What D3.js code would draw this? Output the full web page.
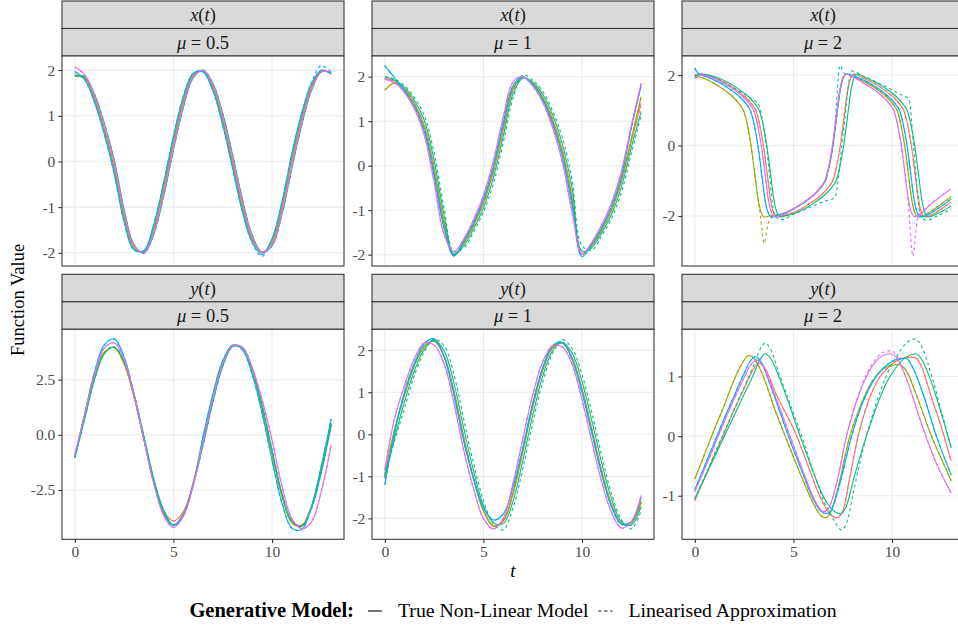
<!DOCTYPE html>
<html>
<head>
<meta charset="utf-8">
<script src="https://cdn.jsdelivr.net/npm/d3@7"></script>
<style>
  body { margin: 0; background: #ffffff; }
  svg { display: block; }
  text { font-family: "Liberation Serif", "DejaVu Serif", serif; }
</style>
</head>
<body>
<svg id="chart" width="958" height="628"></svg>
<script>
// ---------------------------------------------------------------------------
// Van der Pol trajectories: five runs per setting, each drawn from the true
// non-linear model (solid) and from the linearised approximation (dashed).
// ---------------------------------------------------------------------------

const runColours = ["#F8766D", "#A3A500", "#00BF7D", "#00B0F6", "#E76BF3"];

// common time grid for the smoother settings
const tGrid = [0, 0.5, 1, 1.5, 2, 2.5, 3, 3.5, 4, 4.5, 5, 5.5, 6, 6.5, 7, 7.5, 8, 8.5, 9, 9.5, 10, 10.5, 11, 11.5, 12, 12.5, 13];

// x(t), mu = 0.5  (values on tGrid, one row per run)
const xMu05True = [
  [1.90, 1.83, 1.38, 0.71, -0.12, -1.19, -1.88, -1.97, -1.49, -0.62, 0.40, 1.30, 1.88, 1.98, 1.63, 0.92, 0.00, -0.97, -1.70, -1.98, -1.77, -1.03, 0.00, 0.92, 1.63, 1.97, 1.94],
  [1.87, 1.82, 1.35, 0.66, -0.18, -1.24, -1.90, -1.97, -1.45, -0.56, 0.46, 1.34, 1.90, 1.97, 1.60, 0.87, -0.06, -1.02, -1.73, -2.00, -1.74, -0.98, 0.06, 0.97, 1.66, 1.99, 1.92],
  [1.87, 1.86, 1.47, 0.83, 0.03, -1.05, -1.82, -2.01, -1.60, -0.77, 0.25, 1.18, 1.83, 2.00, 1.71, 1.05, 0.15, -0.83, -1.62, -1.99, -1.85, -1.17, -0.16, 0.79, 1.55, 1.96, 1.95],
  [1.97, 1.79, 1.29, 0.59, -0.27, -1.33, -1.94, -1.95, -1.38, -0.47, 0.55, 1.42, 1.93, 1.96, 1.55, 0.79, -0.15, -1.11, -1.78, -2.04, -1.69, -0.89, 0.16, 1.05, 1.71, 2.00, 1.91],
  [2.07, 1.90, 1.44, 0.79, -0.02, -1.10, -1.84, -2.00, -1.56, -0.71, 0.30, 1.23, 1.85, 1.99, 1.68, 1.00, 0.09, -0.88, -1.65, -2.00, -1.82, -1.12, -0.10, 0.84, 1.58, 1.96, 1.96]
];
const xMu05Lin = [
  xMu05True[0],
  xMu05True[1],
  xMu05True[2],
  [1.97, 1.79, 1.29, 0.59, -0.27, -1.33, -1.94, -1.96, -1.38, -0.47, 0.55, 1.42, 1.93, 1.97, 1.55, 0.79, -0.15, -1.11, -1.79, -2.08, -1.69, -0.89, 0.16, 1.05, 1.73, 2.10, 1.95],
  xMu05True[4]
];

// x(t), mu = 1
const xMu1True = [
  [1.95, 1.90, 1.72, 1.40, 0.90, -0.05, -1.25, -2.02, -1.75, -1.35, -0.85, -0.15, 0.80, 1.70, 1.98, 1.85, 1.55, 1.05, 0.35, -0.70, -1.98, -1.80, -1.45, -1.00, -0.35, 0.55, 1.40],
  [1.70, 1.86, 1.70, 1.38, 0.86, -0.11, -1.31, -2.00, -1.73, -1.32, -0.81, -0.10, 0.86, 1.74, 1.98, 1.84, 1.53, 1.01, 0.30, -0.77, -1.98, -1.78, -1.43, -0.97, -0.30, 0.60, 1.55],
  [2.00, 1.92, 1.76, 1.47, 1.02, 0.12, -1.10, -1.98, -1.80, -1.42, -0.95, -0.28, 0.65, 1.61, 1.97, 1.88, 1.61, 1.15, 0.49, -0.51, -1.92, -1.84, -1.51, -1.09, -0.47, 0.41, 1.22],
  [2.25, 1.97, 1.68, 1.33, 0.78, -0.22, -1.40, -2.03, -1.70, -1.28, -0.75, -0.02, 0.95, 1.79, 1.99, 1.82, 1.49, 0.95, 0.21, -0.89, -2.04, -1.76, -1.39, -0.91, -0.23, 0.85, 1.80],
  [1.95, 1.86, 1.64, 1.28, 0.68, -0.37, -1.54, -1.93, -1.65, -1.21, -0.67, 0.10, 1.08, 1.88, 2.00, 1.79, 1.43, 0.87, 0.09, -1.05, -1.98, -1.72, -1.33, -0.83, -0.12, 0.90, 1.85]
];
const xMu1Lin = [
  xMu1True[0],
  xMu1True[1],
  [2.00, 1.94, 1.80, 1.53, 1.13, 0.29, -0.94, -1.93, -1.85, -1.49, -1.04, -0.41, 0.50, 1.51, 2.04, 1.92, 1.68, 1.24, 0.63, -0.33, -1.80, -1.90, -1.58, -1.18, -0.60, 0.27, 1.13],
  xMu1True[3],
  xMu1True[4]
];

// x(t), mu = 2  ([t, value] pairs, denser around the fast jumps)
const xMu2RedTrue = [[0, 2.00], [0.3, 2.03], [0.98, 1.93], [1.48, 1.80], [1.98, 1.63], [2.48, 1.42], [2.88, 1.18], [3.13, 0.95], [3.28, 0.62], [3.48, 0], [3.68, -0.85], [3.83, -1.5], [3.98, -1.88], [4.18, -2.03], [4.38, -2.0], [4.88, -1.93], [5.38, -1.80], [5.88, -1.63], [6.38, -1.42], [6.78, -1.18], [7.03, -0.95], [7.18, -0.62], [7.38, 0], [7.58, 0.85], [7.73, 1.5], [7.88, 1.88], [8.08, 2.03], [8.48, 1.93], [8.98, 1.80], [9.48, 1.63], [9.98, 1.42], [10.38, 1.18], [10.63, 0.95], [10.78, 0.62], [10.98, 0], [11.18, -0.85], [11.33, -1.5], [11.48, -1.88], [11.68, -2.03], [11.88, -2.0], [12.4, -1.84], [13, -1.6]];
const xMu2OliveTrue = [[0, 1.97], [0.35, 1.93], [0.85, 1.80], [1.35, 1.63], [1.85, 1.42], [2.25, 1.18], [2.5, 0.95], [2.65, 0.62], [2.85, 0], [3.05, -0.85], [3.2, -1.5], [3.35, -1.88], [3.55, -2.03], [3.75, -2.0], [4.5, -1.93], [5.0, -1.80], [5.5, -1.63], [6.0, -1.42], [6.4, -1.18], [6.65, -0.95], [6.8, -0.62], [7.0, 0], [7.2, 0.85], [7.35, 1.5], [7.5, 1.88], [7.7, 2.03], [8.14, 1.93], [8.64, 1.80], [9.14, 1.63], [9.64, 1.42], [10.04, 1.18], [10.29, 0.95], [10.44, 0.62], [10.64, 0], [10.84, -0.85], [10.99, -1.5], [11.14, -1.88], [11.34, -2.03], [11.54, -2.0], [12.2, -1.78], [13, -1.45]];
const xMu2OliveLin = [[0, 1.97], [0.35, 1.93], [0.85, 1.80], [1.35, 1.63], [1.85, 1.42], [2.25, 1.18], [2.5, 0.95], [2.65, 0.62], [2.85, 0], [3.05, -0.85], [3.2, -1.5], [3.33, -2.0], [3.52, -2.78], [3.7, -2.25], [3.85, -2.05], [4.1, -2.0], [4.5, -1.93], [5.0, -1.80], [5.5, -1.63], [6.0, -1.42], [6.4, -1.18], [6.65, -0.95], [6.8, -0.62], [7.0, 0], [7.2, 0.85], [7.35, 1.5], [7.5, 1.88], [7.7, 2.03], [8.14, 1.93], [8.64, 1.80], [9.14, 1.63], [9.64, 1.42], [10.04, 1.18], [10.29, 0.95], [10.44, 0.62], [10.64, 0], [10.84, -0.85], [10.99, -1.5], [11.14, -1.88], [11.34, -2.03], [11.54, -2.0], [12.2, -1.78], [13, -1.45]];
const xMu2GreenTrue = [[0, 1.97], [0.3, 2.02], [1.15, 1.93], [1.65, 1.80], [2.15, 1.63], [2.65, 1.42], [3.05, 1.18], [3.3, 0.95], [3.45, 0.62], [3.65, 0], [3.85, -0.85], [4.0, -1.5], [4.15, -1.88], [4.35, -2.03], [4.55, -2.0], [5.05, -1.93], [5.55, -1.80], [6.05, -1.63], [6.55, -1.42], [6.95, -1.18], [7.2, -0.95], [7.35, -0.62], [7.55, 0], [7.75, 0.85], [7.9, 1.5], [8.05, 1.88], [8.25, 2.03], [8.65, 1.93], [9.15, 1.80], [9.65, 1.63], [10.15, 1.42], [10.55, 1.18], [10.8, 0.95], [10.95, 0.62], [11.15, 0], [11.35, -0.85], [11.5, -1.5], [11.65, -1.88], [11.85, -2.03], [12.05, -2.0], [12.5, -1.88], [13, -1.72]];
const xMu2GreenLin = [[0, 1.97], [0.3, 2.02], [1.0, 1.9], [1.5, 1.78], [2.0, 1.63], [2.47, 1.48], [2.9, 1.32], [3.23, 1.17], [3.62, 0], [4.07, -2.0], [4.4, -2.1], [5.0, -1.95], [5.5, -1.83], [6.0, -1.72], [6.5, -1.6], [7.1, -1.47], [7.52, 0.32], [7.95, 2.12], [8.5, 1.98], [9.0, 1.85], [9.5, 1.72], [10.0, 1.58], [10.5, 1.43], [10.86, 1.31], [11.09, 0], [11.45, -2.0], [11.73, -2.12], [12.3, -2.0], [13, -1.8]];
const xMu2BlueTrue = [[0, 2.2], [0.15, 2.06], [0.7, 1.93], [1.2, 1.80], [1.7, 1.63], [2.2, 1.42], [2.6, 1.18], [2.85, 0.95], [3.0, 0.62], [3.2, 0], [3.4, -0.85], [3.55, -1.5], [3.7, -1.88], [3.9, -2.03], [4.1, -2.0], [4.5, -1.93], [5.0, -1.80], [5.5, -1.63], [6.0, -1.42], [6.4, -1.18], [6.65, -0.95], [6.8, -0.62], [7.0, 0], [7.2, 0.85], [7.35, 1.5], [7.5, 1.88], [7.7, 2.03], [8.26, 1.93], [8.76, 1.80], [9.26, 1.63], [9.76, 1.42], [10.16, 1.18], [10.41, 0.95], [10.56, 0.62], [10.76, 0], [10.96, -0.85], [11.11, -1.5], [11.26, -1.88], [11.46, -2.03], [11.66, -2.0], [12.3, -1.8], [13, -1.52]];
const xMu2BlueLin = [[0, 2.2], [0.15, 2.06], [0.7, 1.93], [1.2, 1.80], [1.7, 1.63], [2.2, 1.42], [2.6, 1.18], [2.85, 0.95], [3.0, 0.62], [3.2, 0], [3.4, -0.85], [3.55, -1.5], [3.7, -1.88], [3.9, -2.03], [4.1, -2.0], [4.5, -1.93], [5.0, -1.80], [5.5, -1.63], [6.0, -1.42], [6.4, -1.18], [6.65, -0.95], [6.8, -0.62], [7.0, 0], [7.15, 0.95], [7.36, 2.27], [7.55, 2.06], [7.8, 2.0], [8.26, 1.93], [8.76, 1.80], [9.26, 1.63], [9.76, 1.42], [10.16, 1.18], [10.41, 0.95], [10.56, 0.62], [10.76, 0], [10.96, -0.85], [11.11, -1.5], [11.26, -1.88], [11.46, -2.03], [11.66, -2.0], [12.3, -1.8], [13, -1.52]];
const xMu2MagentaTrue = [[0, 1.9], [0.3, 2.0], [0.87, 1.93], [1.37, 1.80], [1.87, 1.63], [2.37, 1.42], [2.77, 1.18], [3.02, 0.95], [3.17, 0.62], [3.37, 0], [3.57, -0.85], [3.72, -1.5], [3.87, -1.88], [4.07, -2.03], [4.27, -2.0], [4.6, -1.93], [5.0, -1.80], [5.48, -1.63], [5.98, -1.42], [6.38, -1.18], [6.63, -0.95], [6.78, -0.62], [6.98, 0], [7.18, 0.85], [7.33, 1.5], [7.48, 1.88], [7.68, 2.03], [8.0, 1.95], [8.47, 1.80], [8.97, 1.63], [9.47, 1.42], [9.87, 1.18], [10.12, 0.95], [10.27, 0.62], [10.47, 0], [10.67, -0.85], [10.82, -1.5], [10.97, -1.88], [11.17, -2.02], [11.3, -2.0], [12.0, -1.65], [13, -1.23]];
const xMu2MagentaLin = [[0, 1.9], [0.3, 2.0], [0.87, 1.93], [1.37, 1.80], [1.87, 1.63], [2.37, 1.42], [2.77, 1.18], [3.02, 0.95], [3.17, 0.62], [3.37, 0], [3.57, -0.85], [3.72, -1.5], [3.87, -1.88], [4.07, -2.03], [4.27, -2.0], [4.6, -1.93], [5.0, -1.80], [5.48, -1.63], [5.98, -1.42], [6.38, -1.18], [6.63, -0.95], [6.78, -0.62], [6.98, 0], [7.18, 0.85], [7.33, 1.5], [7.48, 1.88], [7.68, 2.03], [8.0, 1.95], [8.47, 1.80], [8.97, 1.63], [9.47, 1.42], [9.87, 1.18], [10.12, 0.95], [10.27, 0.62], [10.47, 0], [10.67, -0.85], [10.82, -1.6], [10.95, -2.6], [11.06, -3.15], [11.18, -2.6], [11.31, -2.05], [12.0, -1.65], [13, -1.23]];

// y(t), mu = 0.5
const yMu05True = [
  [-1.00, 0.86, 2.62, 3.74, 3.96, 3.23, 1.73, -0.20, -2.07, -3.43, -3.90, -3.49, -2.17, -0.32, 1.63, 3.21, 4.03, 3.92, 2.89, 1.19, -0.84, -2.73, -3.91, -4.09, -3.23, -1.54, 0.53],
  [-1.00, 0.88, 2.64, 3.74, 3.96, 3.22, 1.72, -0.20, -2.12, -3.52, -4.08, -3.60, -2.23, -0.32, 1.63, 3.20, 4.02, 3.91, 2.88, 1.18, -0.86, -2.77, -3.98, -4.15, -3.28, -1.56, 0.52],
  [-1.05, 0.72, 2.50, 3.68, 3.98, 3.32, 1.87, -0.04, -1.98, -3.40, -4.10, -3.64, -2.30, -0.48, 1.48, 3.11, 4.00, 3.97, 3.00, 1.35, -0.68, -2.63, -3.90, -4.14, -3.33, -1.70, 0.45],
  [-0.95, 0.94, 2.86, 4.08, 4.35, 3.52, 1.85, -0.20, -2.15, -3.57, -4.11, -3.63, -2.26, -0.08, 1.85, 3.36, 4.07, 3.85, 2.72, 0.96, -1.14, -3.08, -4.22, -4.30, -3.26, -1.40, 0.72],
  [-0.90, 0.92, 2.75, 3.93, 4.18, 3.40, 1.82, -0.21, -2.20, -3.64, -4.20, -3.70, -2.30, -0.34, 1.64, 3.22, 4.05, 3.96, 3.03, 1.58, -0.24, -2.30, -3.78, -4.25, -3.94, -2.55, -0.45]
];
const yMu05Lin = yMu05True;

// y(t), mu = 1
const yMu1True = [
  [-1.05, 0.09, 0.93, 1.63, 2.08, 2.22, 1.87, 1.04, -0.06, -1.04, -1.80, -2.18, -2.07, -1.42, -0.41, 0.64, 1.51, 2.05, 2.17, 1.82, 1.08, 0.12, -0.87, -1.67, -2.12, -2.11, -1.62],
  [-0.95, 0.13, 0.96, 1.65, 2.09, 2.22, 1.85, 1.00, -0.10, -1.07, -1.82, -2.18, -2.05, -1.39, -0.37, 0.68, 1.54, 2.06, 2.17, 1.80, 1.05, 0.08, -0.91, -1.69, -2.13, -2.10, -1.60],
  [-1.00, -0.08, 0.78, 1.51, 2.02, 2.24, 1.99, 1.23, 0.15, -0.87, -1.69, -2.10, -2.13, -1.59, -0.62, 0.45, 1.37, 1.98, 2.19, 1.93, 1.25, 0.32, -0.69, -1.54, -2.08, -2.16, -1.72],
  [-1.20, 0.05, 1.01, 1.69, 2.15, 2.27, 1.85, 0.94, -0.16, -1.05, -1.74, -2.04, -1.90, -1.26, -0.31, 0.74, 1.58, 2.10, 2.19, 1.77, 1.00, 0.02, -0.96, -1.73, -2.14, -2.08, -1.50],
  [-0.85, 0.39, 1.16, 1.80, 2.17, 2.12, 1.69, 0.75, -0.37, -1.30, -2.00, -2.25, -2.00, -1.17, -0.10, 0.93, 1.72, 2.10, 2.08, 1.66, 0.82, -0.17, -1.14, -1.86, -2.23, -2.08, -1.45]
];
const yMu1Lin = [
  yMu1True[0],
  yMu1True[1],
  [-1.00, -0.15, 0.62, 1.40, 1.96, 2.26, 2.11, 1.43, 0.36, -0.69, -1.57, -2.13, -2.27, -1.75, -0.82, 0.26, 1.23, 1.92, 2.25, 2.04, 1.42, 0.51, -0.51, -1.42, -2.03, -2.25, -1.82],
  yMu1True[3],
  yMu1True[4]
];

// y(t), mu = 2  ([t, value] pairs)
const yMu2RedTrue = [[0, -1.08], [0.5, -0.7], [1.0, -0.32], [1.5, 0.06], [2.0, 0.44], [2.5, 0.8], [2.9, 1.08], [3.23, 1.22], [3.55, 1.14], [4.1, 0.72], [5.17, 0], [5.8, -0.55], [6.3, -0.98], [6.8, -1.28], [7.19, -1.37], [7.5, -1.27], [7.8, -0.8], [8.28, 0], [8.8, 0.58], [9.3, 0.95], [9.8, 1.15], [10.3, 1.27], [10.8, 1.32], [11.14, 1.32], [11.45, 1.2], [12.0, 0.65], [12.5, 0.15], [13, -0.42]];
const yMu2OliveTrue = [[0, -0.72], [0.5, -0.3], [1.0, 0.12], [1.5, 0.52], [2.0, 0.95], [2.4, 1.22], [2.73, 1.35], [3.05, 1.28], [3.5, 0.98], [4.0, 0.5], [4.58, 0], [5.0, -0.35], [5.5, -0.75], [6.0, -1.12], [6.35, -1.32], [6.6, -1.37], [6.85, -1.3], [7.2, -0.95], [7.86, 0], [8.3, 0.42], [8.8, 0.8], [9.3, 1.05], [9.8, 1.17], [10.3, 1.2], [10.75, 1.08], [11.2, 0.72], [12.0, 0], [12.5, -0.38], [13, -0.75]];
const yMu2GreenTrue = [[0, -1.05], [0.5, -0.7], [1.0, -0.35], [1.5, 0.0], [2.0, 0.35], [2.5, 0.7], [3.0, 1.05], [3.3, 1.28], [3.57, 1.38], [3.85, 1.3], [4.4, 0.88], [5.34, 0], [6.0, -0.6], [6.5, -1.0], [7.0, -1.24], [7.36, -1.3], [7.65, -1.2], [8.05, -0.72], [8.7, 0], [9.2, 0.48], [9.7, 0.88], [10.2, 1.15], [10.7, 1.32], [11.23, 1.38], [11.55, 1.26], [12.0, 0.9], [12.5, 0.38], [13, -0.2]];
const yMu2GreenLin = [[0, -1.05], [0.5, -0.68], [1.0, -0.3], [1.5, 0.08], [2.0, 0.45], [2.5, 0.82], [3.0, 1.2], [3.3, 1.45], [3.57, 1.56], [3.85, 1.45], [4.3, 1.02], [5.42, 0], [6.0, -0.58], [6.5, -1.05], [7.0, -1.38], [7.44, -1.57], [7.75, -1.4], [8.1, -0.85], [8.7, 0], [9.2, 0.55], [9.7, 1.0], [10.2, 1.32], [10.7, 1.55], [11.14, 1.63], [11.5, 1.5], [12.0, 1.02], [12.5, 0.42], [13, -0.18]];
const yMu2BlueTrue = [[0, -0.9], [0.5, -0.5], [1.0, -0.1], [1.5, 0.3], [2.0, 0.68], [2.5, 1.05], [2.8, 1.25], [3.06, 1.33], [3.35, 1.25], [3.8, 0.88], [4.75, 0], [5.5, -0.65], [6.0, -1.05], [6.4, -1.26], [6.68, -1.3], [6.95, -1.22], [7.35, -0.8], [7.95, 0], [8.5, 0.55], [9.0, 0.9], [9.5, 1.12], [10.0, 1.25], [10.45, 1.3], [10.72, 1.3], [11.05, 1.15], [11.6, 0.68], [12.25, 0], [13, -0.65]];
const yMu2MagentaTrue = [[0, -0.93], [0.5, -0.55], [1.0, -0.15], [1.5, 0.25], [2.0, 0.63], [2.5, 0.98], [2.85, 1.2], [3.15, 1.27], [3.45, 1.18], [3.9, 0.82], [4.83, 0], [5.5, -0.6], [6.0, -1.02], [6.3, -1.2], [6.52, -1.27], [6.8, -1.2], [7.2, -0.78], [7.69, 0], [8.2, 0.58], [8.7, 1.0], [9.2, 1.26], [9.6, 1.36], [9.97, 1.38], [10.3, 1.28], [10.8, 0.9], [11.5, 0.2], [12.2, -0.42], [13, -0.95]];
const yMu2MagentaLin = [[0, -0.93], [0.5, -0.55], [1.0, -0.15], [1.5, 0.25], [2.0, 0.63], [2.5, 0.98], [2.85, 1.2], [3.15, 1.27], [3.45, 1.18], [3.9, 0.82], [4.83, 0], [5.5, -0.6], [6.0, -1.02], [6.3, -1.2], [6.52, -1.27], [6.8, -1.2], [7.2, -0.78], [7.69, 0], [8.2, 0.6], [8.7, 1.03], [9.2, 1.3], [9.6, 1.41], [9.97, 1.43], [10.3, 1.31], [10.8, 0.9], [11.5, 0.2], [12.2, -0.42], [13, -0.95]];

// axis ticks
const timeTicks = [0, 5, 10];
const ticksXMu05 = [-2, -1, 0, 1, 2];
const ticksXMu1 = [-2, -1, 0, 1, 2];
const ticksXMu2 = [-2, 0, 2];
const ticksYMu05 = [-2.5, 0, 2.5];
const ticksYMu1 = [-2, -1, 0, 1, 2];
const ticksYMu2 = [-1, 0, 1];

// legend entries
const modelLabels = ["True Non-Linear Model", "Linearised Approximation"];
const legendTitle = "Generative Model:";

// ---------------------------------------------------------------------------
const onGrid = rows => rows.map(r => r.map((v, i) => [tGrid[i], v]));

const facets = [
  { fn: "x", mu: "0.5", row: 0, col: 0, solid: onGrid(xMu05True), dashed: onGrid(xMu05Lin), ticks: ticksXMu05, fmt: d3.format("d"), smooth: true },
  { fn: "x", mu: "1",   row: 0, col: 1, solid: onGrid(xMu1True),  dashed: onGrid(xMu1Lin),  ticks: ticksXMu1,  fmt: d3.format("d"), smooth: true },
  { fn: "x", mu: "2",   row: 0, col: 2,
    solid:  [xMu2RedTrue, xMu2OliveTrue, xMu2GreenTrue, xMu2BlueTrue, xMu2MagentaTrue],
    dashed: [xMu2RedTrue, xMu2OliveLin,  xMu2GreenLin,  xMu2BlueLin,  xMu2MagentaLin],
    ticks: ticksXMu2, fmt: d3.format("d"), smooth: false },
  { fn: "y", mu: "0.5", row: 1, col: 0, solid: onGrid(yMu05True), dashed: onGrid(yMu05Lin), ticks: ticksYMu05, fmt: d3.format(".1f"), smooth: true },
  { fn: "y", mu: "1",   row: 1, col: 1, solid: onGrid(yMu1True),  dashed: onGrid(yMu1Lin),  ticks: ticksYMu1,  fmt: d3.format("d"), smooth: true },
  { fn: "y", mu: "2",   row: 1, col: 2,
    solid:  [yMu2RedTrue, yMu2OliveTrue, yMu2GreenTrue, yMu2BlueTrue, yMu2MagentaTrue],
    dashed: [yMu2RedTrue, yMu2OliveTrue, yMu2GreenLin,  yMu2BlueTrue, yMu2MagentaLin],
    ticks: ticksYMu2, fmt: d3.format("d"), smooth: false }
];

// layout
const colLeft = [62, 372, 682];
const rowTop = [1, 274.3];
const panelW = 282, stripH = 27.5, panelH = 210;
const tickLen = 3.7;
const dashPattern = "3,3";
const minusFix = s => s.replace("\u2212", "-");

const svg = d3.select("#chart");

const tExtent = d3.extent(tGrid);
const tPad = (tExtent[1] - tExtent[0]) * 0.05;

facets.forEach((f, k) => {
  const x0 = colLeft[f.col];
  const yTop = rowTop[f.row];
  const pTop = yTop + 2 * stripH;
  const pBot = pTop + panelH;

  const xs = d3.scaleLinear().domain([tExtent[0] - tPad, tExtent[1] + tPad]).range([x0, x0 + panelW]);
  const allVals = f.solid.concat(f.dashed).flat().map(d => d[1]);
  const vExt = d3.extent(allVals);
  const vPad = (vExt[1] - vExt[0]) * 0.05;
  const ys = d3.scaleLinear().domain([vExt[0] - vPad, vExt[1] + vPad]).range([pBot, pTop]);

  const g = svg.append("g");

  // strips
  [0, 1].forEach(s => {
    g.append("rect")
      .attr("x", x0).attr("y", yTop + s * stripH)
      .attr("width", panelW).attr("height", stripH)
      .attr("fill", "#D9D9D9").attr("stroke", "#333333").attr("stroke-width", 1.07);
  });
  const t1 = g.append("text")
    .attr("x", x0 + panelW / 2).attr("y", yTop + stripH / 2 + 6.5)
    .attr("text-anchor", "middle").attr("font-size", 18.5).attr("fill", "#1A1A1A");
  t1.append("tspan").attr("font-style", "italic").text(f.fn);
  t1.append("tspan").text("(");
  t1.append("tspan").attr("font-style", "italic").text("t");
  t1.append("tspan").text(")");
  const t2 = g.append("text")
    .attr("x", x0 + panelW / 2).attr("y", yTop + stripH * 1.5 + 6.5)
    .attr("text-anchor", "middle").attr("font-size", 18.5).attr("fill", "#1A1A1A");
  t2.append("tspan").attr("font-style", "italic").text("\u03bc");
  t2.append("tspan").text(" = " + f.mu);

  // panel background and grid
  g.append("rect").attr("x", x0).attr("y", pTop).attr("width", panelW).attr("height", panelH).attr("fill", "#ffffff");
  g.selectAll(".hgrid").data(f.ticks).join("line")
    .attr("x1", x0).attr("x2", x0 + panelW)
    .attr("y1", d => ys(d)).attr("y2", d => ys(d))
    .attr("stroke", "#EBEBEB").attr("stroke-width", 1.07);
  g.selectAll(".vgrid").data(timeTicks).join("line")
    .attr("x1", d => xs(d)).attr("x2", d => xs(d))
    .attr("y1", pTop).attr("y2", pBot)
    .attr("stroke", "#EBEBEB").attr("stroke-width", 1.07);

  // trajectories
  const clipId = "clip" + k;
  svg.append("clipPath").attr("id", clipId)
    .append("rect").attr("x", x0).attr("y", pTop).attr("width", panelW).attr("height", panelH);
  const line = d3.line()
    .x(d => xs(d[0])).y(d => ys(d[1]))
    .curve(f.smooth ? d3.curveCatmullRom.alpha(0.5) : d3.curveMonotoneX);
  const lg = g.append("g").attr("clip-path", `url(#${clipId})`);
  runColours.forEach((c, i) => {
    lg.append("path").attr("d", line(f.solid[i]))
      .attr("fill", "none").attr("stroke", c).attr("stroke-width", 1.1);
    lg.append("path").attr("d", line(f.dashed[i]))
      .attr("fill", "none").attr("stroke", c).attr("stroke-width", 1.1)
      .attr("stroke-dasharray", dashPattern);
  });

  // panel border
  g.append("rect").attr("x", x0).attr("y", pTop).attr("width", panelW).attr("height", panelH)
    .attr("fill", "none").attr("stroke", "#333333").attr("stroke-width", 1.07);

  // y axis
  const ya = g.append("g").attr("transform", `translate(${x0},0)`)
    .call(d3.axisLeft(ys).tickValues(f.ticks).tickSize(tickLen).tickPadding(3)
      .tickFormat(d => minusFix(f.fmt(d))));
  ya.select(".domain").remove();
  ya.selectAll("line").attr("stroke", "#333333").attr("stroke-width", 1.07);
  ya.selectAll("text").attr("fill", "#4D4D4D").attr("font-size", 15.5)
    .attr("font-family", "Liberation Serif, DejaVu Serif, serif");

  // x axis on the bottom row only
  if (f.row === 1) {
    const xa = g.append("g").attr("transform", `translate(0,${pBot})`)
      .call(d3.axisBottom(xs).tickValues(timeTicks).tickSize(tickLen).tickPadding(3));
    xa.select(".domain").remove();
    xa.selectAll("line").attr("stroke", "#333333").attr("stroke-width", 1.07);
    xa.selectAll("text").attr("fill", "#4D4D4D").attr("font-size", 15.5)
      .attr("font-family", "Liberation Serif, DejaVu Serif, serif");
  }
});

// axis titles
svg.append("text")
  .attr("transform", "translate(23.5,300) rotate(-90)")
  .attr("text-anchor", "middle").attr("font-size", 18.5).attr("fill", "#000")
  .text("Function Value");
svg.append("text")
  .attr("x", 513).attr("y", 577)
  .attr("text-anchor", "middle").attr("font-size", 19).attr("font-style", "italic").attr("fill", "#000")
  .text("t");

// legend
const leg = svg.append("g");
const legY = 617;
const title = leg.append("text").attr("y", legY).attr("font-size", 20.5).attr("font-weight", "bold").text(legendTitle);
const keyW = 14;
const items = modelLabels.map((lab, i) => {
  const key = leg.append("line").attr("y1", legY - 6).attr("y2", legY - 6)
    .attr("stroke", "#000").attr("stroke-width", 1.1)
    .attr("stroke-dasharray", i === 0 ? null : dashPattern);
  const txt = leg.append("text").attr("y", legY).attr("font-size", 19.8).text(lab);
  return { key, txt };
});
const gapTitle = 14, gapKeyText = 16, gapItem = 10;
const widths = {
  title: title.node().getComputedTextLength(),
  items: items.map(d => d.txt.node().getComputedTextLength())
};
const totalW = widths.title + gapTitle + items.length * (keyW + gapKeyText) + d3.sum(widths.items) + gapItem * (items.length - 1);
let cx = 513 - totalW / 2;
title.attr("x", cx);
cx += widths.title + gapTitle;
items.forEach((d, i) => {
  d.key.attr("x1", cx).attr("x2", cx + keyW);
  cx += keyW + gapKeyText;
  d.txt.attr("x", cx);
  cx += widths.items[i] + gapItem;
});
</script>
</body>
</html>
